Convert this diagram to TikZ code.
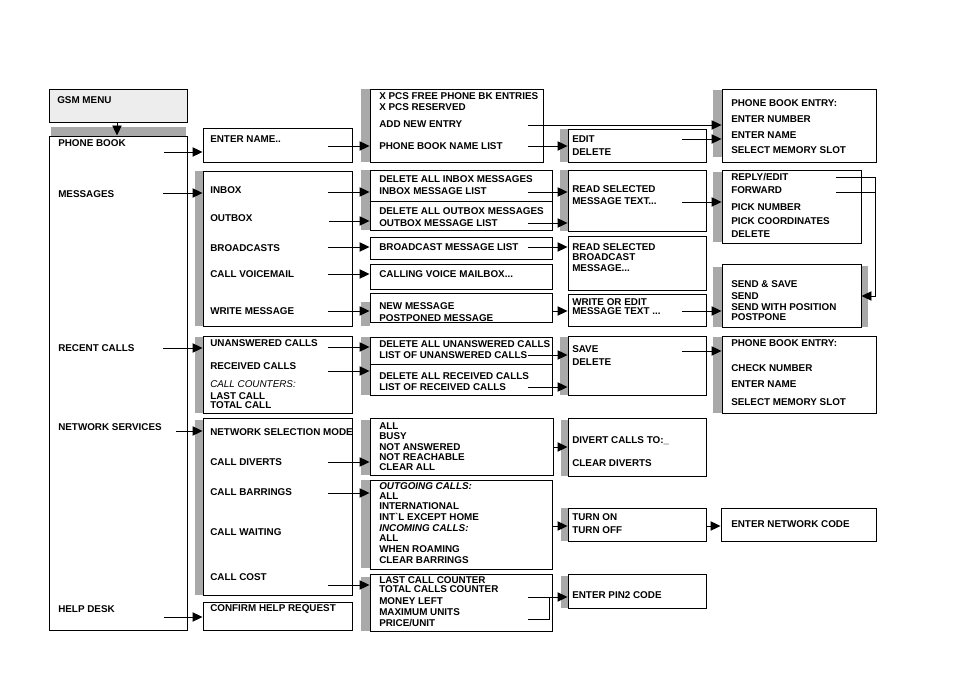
\documentclass[tikz,border=0pt]{standalone}
\usepackage{fontspec}
\setmainfont{Liberation Sans}
\usetikzlibrary{arrows.meta,fit}
\definecolor{shade}{HTML}{A9A9A9}
\definecolor{headfill}{HTML}{EDEDED}
\tikzset{
  box/.style={draw,line width=0.7pt,inner sep=0pt},
  bar/.style={fill=shade,inner sep=0pt},
  lbl/.style={anchor=west,inner sep=0pt,text height=5.3pt,text depth=0pt,font=\fontsize{7.4}{8}\selectfont\bfseries},
  ital/.style={lbl,font=\fontsize{7.4}{8}\selectfont\itshape},
  arr/.style={-{Triangle[length=7.5pt,width=7pt]},line width=0.7pt}
}
\begin{document}
\begin{tikzpicture}[x=0.75pt,y=-0.75pt]
\useasboundingbox (0,0) rectangle (964,680);
\foreach \n/\a/\b/\c/\d in {b0/51/127/186/136, b1/195/171/203/326, b2/195/337/203/413, b3/195/420/203/595,
  b4/361/89/370/162, b5/361/170/370/230, b6/361/302/370/326, b7/361/337/370/395, b8/361/420/370/475,
  b9/361/480/370/568, b10/361/577/370/631, b11/560/129/568/162, b12/560/170/568/231, b13/560/337/568/395,
  b14/561/420/568/476, b15/561/508/568/541, b16/561/576/568/608, b17/713/90/722/157, b18/713/172/722/242,
  b19/713/267/722/327, b20/861/266/868/327, b21/713/337/722/413}
  \node[bar,fit={(\a,\b) (\c,\d)}] (\n) {};
\node[box,fill=headfill,fit={(49,89) (187,122)}] (gsm) {};
\foreach \n/\a/\b/\c/\d in {mainBox/49/136/187/630, enterName/203/128/352/162, msgMenu/203/171/352/326,
  recMenu/203/336/352/413, netMenu/203/418/352/595, helpBox/203/602/352/630,
  pbList/370/89/543/162, inboxBox/370/170/552/201, outboxBox/370/201/552/230, bcList/370/237/552/259,
  vmBox/370/264/552/289, newMsg/370/293/552/322, unansBox/370/337/552/364, recvBox/370/364/552/395,
  divBox/370/418/553/475, barBox/370/480/552/569, costBox/370/574/552/631,
  editBox/568/129/706/162, readMsg/568/170/706/231, readBc/568/236/706/290, writeEdit/568/294/706/326,
  saveDel/568/336/706/395, divTo/568/418/706/476, turnBox/568/508/706/541, pin2/568/574/706/608,
  pbEntry/722/89/876/162, replyBox/722/170/861/243, sendBox/722/264/861/327, pbEntry2/722/336/876/413,
  netCode/721/508/876/541}
  \node[box,fit={(\a,\b) (\c,\d)}] (\n) {};
\node[lbl] (gsmT) at (57,100) {GSM MENU};
\foreach \t/\y [count=\i] in {PHONE BOOK/143, MESSAGES/194, RECENT CALLS/348, NETWORK SERVICES/427, HELP DESK/609}
  \node[lbl] (m\i) at (58,\y) {\t};
\foreach \t/\y [count=\i] in {{ENTER NAME..}/139, INBOX/190, OUTBOX/218, BROADCASTS/248, CALL VOICEMAIL/274,
  WRITE MESSAGE/311, UNANSWERED CALLS/343, RECEIVED CALLS/366, LAST CALL/395.5, TOTAL CALL/405,
  NETWORK SELECTION MODE/432, CALL DIVERTS/462, CALL BARRINGS/492, CALL WAITING/532, CALL COST/577,
  CONFIRM HELP REQUEST/608}
  \node[lbl] (s\i) at (210,\y) {\t};
\node[ital] (sCnt) at (210,384) {CALL COUNTERS:};
\foreach \t/\y [count=\i] in {X PCS FREE PHONE BK ENTRIES/96, X PCS RESERVED/107, ADD NEW ENTRY/124,
  PHONE BOOK NAME LIST/146, DELETE ALL INBOX MESSAGES/179, INBOX MESSAGE LIST/191,
  DELETE ALL OUTBOX MESSAGES/211, OUTBOX MESSAGE LIST/223, BROADCAST MESSAGE LIST/247,
  {CALLING VOICE MAILBOX...}/274, NEW MESSAGE/306, POSTPONED MESSAGE/318, DELETE ALL UNANSWERED CALLS/344,
  LIST OF UNANSWERED CALLS/355, DELETE ALL RECEIVED CALLS/376, LIST OF RECEIVED CALLS/387,
  ALL/426, BUSY/436, NOT ANSWERED/447, NOT REACHABLE/457, CLEAR ALL/467, ALL/496, INTERNATIONAL/506,
  {INT\textasciigrave L EXCEPT HOME}/517, ALL/538, WHEN ROAMING/549, CLEAR BARRINGS/560,
  LAST CALL COUNTER/580, TOTAL CALLS COUNTER/589, MONEY LEFT/601, MAXIMUM UNITS/612, {PRICE/UNIT}/623}
  \node[lbl] (c\i) at (379,\y) {\t};
\node[ital,font=\fontsize{7.4}{8}\selectfont\bfseries\itshape] (cOut) at (379,486) {OUTGOING CALLS:};
\node[ital,font=\fontsize{7.4}{8}\selectfont\bfseries\itshape] (cIn) at (379,528) {INCOMING CALLS:};
\foreach \t/\y [count=\i] in {EDIT/139, DELETE/152, READ SELECTED/189, {MESSAGE TEXT...}/201,
  READ SELECTED/247, BROADCAST/257, {MESSAGE...}/268, WRITE OR EDIT/302, {MESSAGE TEXT ...}/311,
  SAVE/349, DELETE/362, {DIVERT CALLS TO:\_}/440, CLEAR DIVERTS/463, TURN ON/517, TURN OFF/530,
  ENTER PIN2 CODE/595}
  \node[lbl] (d\i) at (572,\y) {\t};
\foreach \t/\y [count=\i] in {PHONE BOOK ENTRY:/103, ENTER NUMBER/119, ENTER NAME/135, SELECT MEMORY SLOT/150,
  {REPLY/EDIT}/177, FORWARD/190, PICK NUMBER/207, PICK COORDINATES/221, DELETE/234,
  {SEND \& SAVE}/284, SEND/296, SEND WITH POSITION/307, POSTPONE/317,
  PHONE BOOK ENTRY:/343, CHECK NUMBER/368, ENTER NAME/384, SELECT MEMORY SLOT/402, ENTER NETWORK CODE/524}
  \node[lbl] (e\i) at (731,\y) {\t};
\coordinate (aGsm) at (117,122);
\draw[arr] (aGsm) -- (aGsm |- mainBox.north);
\foreach \n/\x/\y/\to in {aPB/164/152/enterName, aMsg/163/193/msgMenu, aRec/163/348/recMenu,
  aNet/176/431/netMenu, aHelp/164/617/helpBox, aName/328/146/pbList, aInbox/328/192/inboxBox,
  aOutbox/329/221/outboxBox, aBc/328/247/bcList, aVm/328/274/vmBox, aWrite/328/311/newMsg,
  aUnans/328/347/unansBox, aRecv/328/371/recvBox, aDiv/328/462/divBox, aBar/328/493/barBox,
  aCost/328/585/costBox, aAdd/528/125/pbEntry, aPbl/528/146/editBox, aIbl/528/192/readMsg,
  aObl/528/223/readMsg, aBcl/528/247/readBc, aNew/552/311/writeEdit, aLun/528/355/saveDel,
  aLrv/528/387/saveDel, aDvt/553/447/divTo, aTrn/552/526/turnBox, aMoney/528/597/pin2,
  aEdit/682/139/pbEntry, aRead/682/202/replyBox, aWoe/682/311/sendBox, aSave/682/351/pbEntry2,
  aCode/706/526/netCode}
  {\coordinate (\n) at (\x,\y); \draw[arr] (\n) -- (\n -| \to.west);}
\coordinate (aPrice) at (528,619);
\coordinate (jCost) at (549,597);
\draw[line width=0.7pt] (aPrice) -| (jCost);
\coordinate (aReply) at (836,177);
\coordinate (aFwd) at (836,192);
\coordinate (jSend) at (875,296);
\draw[line width=0.7pt] (aFwd) -- (aFwd -| jSend);
\draw[arr] (aReply) -| (jSend) -- (jSend -| sendBox.east);
\end{tikzpicture}
\end{document}
